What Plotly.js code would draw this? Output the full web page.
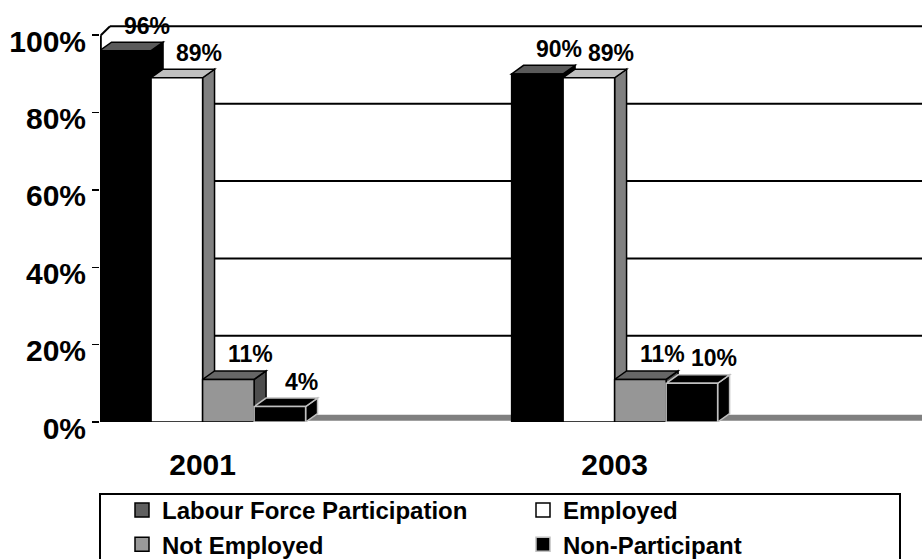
<!DOCTYPE html>
<html>
<head>
<meta charset="utf-8">
<script src="https://cdn.plot.ly/plotly-3.0.1.min.js"></script>
<style>html,body{margin:0;padding:0;background:#fff;}#chart{width:922px;height:559px;}</style>
</head>
<body>
<div id="chart"></div>
<script>
// ---- data ----
const years = ['2001', '2003'];
const labourForce = [96, 90];
const employed = [89, 89];
const notEmployed = [11, 11];
const nonParticipant = [4, 10];
const seriesNames = ['Labour Force Participation', 'Employed', 'Not Employed', 'Non-Participant'];
const yTickVals = [0, 20, 40, 60, 80, 100];
const yTickText = ['0%', '20%', '40%', '60%', '80%', '100%'];

// ---- styles ----
const FONT = 'Liberation Sans, Arial, Helvetica, sans-serif';
const styles = [
  {front: '#000000', edge: '#000000', top: '#5a5a5a', side: '#000000', legend: '#5f5f5f', legendEdge: '#000000'},
  {front: '#ffffff', edge: '#000000', top: '#c0c0c0', side: '#808080', legend: '#ffffff', legendEdge: '#000000'},
  {front: '#969696', edge: '#000000', top: '#666666', side: '#4d4d4d', legend: '#999999', legendEdge: '#000000'},
  {front: '#000000', edge: '#c0c0c0', top: '#000000', side: '#000000', legend: '#000000', legendEdge: '#c0c0c0'}
];
const seriesValues = [labourForce, employed, notEmployed, nonParticipant];

const xRange = [-0.249, 1.746];
const yRange = [0, 109.1];
const bargap = 0.5;
const nSeries = seriesValues.length;
const barW = (1 - bargap) / nSeries;
const ddx = 0.029, ddy = 2.2;      // bar depth (data units)
const wallDx = 0.0243, wallDy = 2.3; // back-wall offset
const xIdx = years.map((_, i) => i);

const traces = [];
seriesValues.forEach((vals, s) => {
  traces.push({
    type: 'bar', x: xIdx, y: vals, name: seriesNames[s], showlegend: false,
    marker: {color: styles[s].front, line: {color: styles[s].edge, width: 1.5}},
    hoverinfo: 'skip'
  });
});
// legend entries
seriesValues.forEach((vals, s) => {
  traces.push({
    type: 'scatter', mode: 'markers', x: [null], y: [null], name: seriesNames[s],
    marker: {symbol: 'square', size: 14, color: styles[s].legend, line: {color: styles[s].legendEdge, width: 1.5}}
  });
});

const shapes = [];
// floor band
shapes.push({type: 'rect', xref: 'x', yref: 'y', layer: 'below', x0: xRange[0] + wallDx, x1: xRange[1], y0: 0.3, y1: 1.9,
  fillcolor: '#808080', line: {width: 0}});
// back wall gridlines
yTickVals.filter(v => v > 0).forEach(v => {
  shapes.push({type: 'line', xref: 'x', yref: 'y', layer: 'below', x0: xRange[0] + wallDx, x1: xRange[1],
    y0: v + wallDy, y1: v + wallDy, line: {color: '#000', width: 2}});
});
// y axis line + diagonal at top
const yMax = yTickVals[yTickVals.length - 1];
shapes.push({type: 'line', xref: 'x', yref: 'y', layer: 'below', x0: xRange[0] + 0.002, x1: xRange[0] + 0.002, y0: 0, y1: yMax, line: {color: '#000', width: 2}});
shapes.push({type: 'line', xref: 'x', yref: 'y', layer: 'below', x0: xRange[0] + 0.002, x1: xRange[0] + wallDx, y0: yMax, y1: yMax + wallDy, line: {color: '#000', width: 2}});
// 3D faces
seriesValues.forEach((vals, s) => {
  vals.forEach((v, i) => {
    const xL = i + (s - (nSeries - 1) / 2) * barW - barW / 2;
    const xR = xL + barW;
    const st = styles[s];
    shapes.push({type: 'path', xref: 'x', yref: 'y', layer: 'below',
      path: `M${xR},0 L${xR},${v} L${xR + ddx},${v + ddy} L${xR + ddx},${ddy} Z`,
      fillcolor: st.side, line: {color: st.edge, width: 1.5}});
    shapes.push({type: 'path', xref: 'x', yref: 'y', layer: 'below',
      path: `M${xL},${v} L${xR},${v} L${xR + ddx},${v + ddy} L${xL + ddx},${v + ddy} Z`,
      fillcolor: st.top, line: {color: st.edge, width: 1.5}});
  });
});
// legend box
shapes.push({type: 'rect', xref: 'paper', yref: 'paper', layer: 'above',
  x0: 0, x1: 800 / 822, y0: (422 - 494) / 422, y1: (422 - 580) / 422,
  fillcolor: 'rgba(0,0,0,0)', line: {color: '#000', width: 2}});

// data labels
const annotations = [];
seriesValues.forEach((vals, s) => {
  vals.forEach((v, i) => {
    annotations.push({
      x: i + (s - (nSeries - 1) / 2) * barW, y: v, xref: 'x', yref: 'y',
      text: v + '%', showarrow: false, xanchor: 'center', yanchor: 'middle',
      xshift: 22, yshift: 25,
      font: {family: FONT, size: 23, color: '#000', weight: 'bold'}
    });
  });
});

const layout = {
  width: 922, height: 559,
  margin: {l: 100, r: 0, t: 0, b: 137, autoexpand: false},
  paper_bgcolor: '#ffffff', plot_bgcolor: 'rgba(0,0,0,0)',
  barmode: 'group', bargap: bargap, bargroupgap: 0,
  xaxis: {type: 'linear', range: xRange, tickvals: xIdx, ticktext: years, showgrid: false, zeroline: false,
    showline: false, ticks: '', ticklabelstandoff: 22,
    tickfont: {family: FONT, size: 30, color: '#000', weight: 'bold'}},
  yaxis: {range: yRange, tickvals: yTickVals, ticktext: yTickText, showgrid: false, zeroline: false,
    showline: false, ticks: 'outside', ticklen: 7, tickwidth: 1.5, tickcolor: '#000', ticklabelshift: 6,
    tickfont: {family: FONT, size: 30, color: '#000', weight: 'bold'}},
  showlegend: true,
  legend: {orientation: 'h', x: 22 / 822, xanchor: 'left', y: (422 - 488) / 422, yanchor: 'top',
    entrywidth: 356, entrywidthmode: 'pixels', borderwidth: 0, bgcolor: 'rgba(0,0,0,0)',
    font: {family: FONT, size: 24, color: '#000', weight: 'bold'}, traceorder: 'normal'},
  shapes: shapes,
  annotations: annotations,
  hovermode: false
};

Plotly.newPlot('chart', traces, layout, {staticPlot: true, displayModeBar: false});
</script>
</body>
</html>
